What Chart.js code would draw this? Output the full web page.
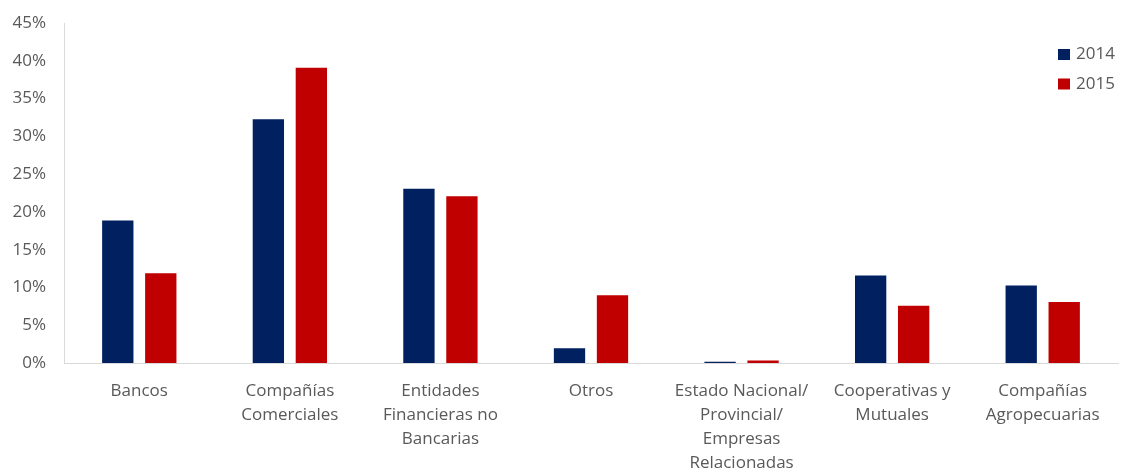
<!DOCTYPE html>
<html>
<head>
<meta charset="utf-8">
<script src="https://cdn.jsdelivr.net/npm/chart.js@4/dist/chart.umd.min.js"></script>
<style>
  html, body { margin: 0; padding: 0; background: #fff; }
  #wrap { width: 1121px; height: 472px; position: relative; }
</style>
</head>
<body>
<div id="wrap"><canvas id="c" width="1121" height="472"></canvas></div>
<script>
// Categorías (etiquetas multilínea del eje X)
const categories = [
  ['Bancos'],
  ['Compañías', 'Comerciales'],
  ['Entidades', 'Financieras no', 'Bancarias'],
  ['Otros'],
  ['Estado Nacional/', 'Provincial/', 'Empresas', 'Relacionadas'],
  ['Cooperativas y', 'Mutuales'],
  ['Compañías', 'Agropecuarias']
];

// Participación porcentual por año
const serie2014 = [19.0, 32.4, 23.2, 2.1, 0.3, 11.7, 10.4];
const serie2015 = [12.0, 39.2, 22.2, 9.1, 0.45, 7.7, 8.2];

// Marcas del eje Y (en %)
const yTicks = [0, 5, 10, 15, 20, 25, 30, 35, 40, 45];

const NAVY = '#002060';
const RED = '#C00000';
const TEXT = '#595959';
const FONT = '"Open Sans", Lato, sans-serif';

// Leyenda vertical dentro del área de trazado, arriba a la derecha
const legendPlugin = {
  id: 'insideLegend',
  afterDraw(chart) {
    const ctx = chart.ctx;
    ctx.save();
    ctx.font = '17px ' + FONT;
    ctx.textBaseline = 'middle';
    chart.data.datasets.forEach((ds, i) => {
      const y = 54.5 + i * 29.5;
      ctx.fillStyle = ds.backgroundColor;
      ctx.fillRect(1058, y - 5.5, 12, 11);
      ctx.fillStyle = TEXT;
      ctx.fillText(ds.label, 1076, y);
    });
    ctx.restore();
  }
};

new Chart(document.getElementById('c'), {
  type: 'bar',
  data: {
    labels: categories,
    datasets: [
      { label: '2014', data: serie2014, backgroundColor: NAVY, borderColor: 'rgba(255,255,255,0.45)', borderWidth: 1 },
      { label: '2015', data: serie2015, backgroundColor: RED, borderColor: 'rgba(255,255,255,0.45)', borderWidth: 1 }
    ]
  },
  options: {
    responsive: false,
    animation: false,
    devicePixelRatio: 1,
    layout: { padding: { top: 0, right: 3, left: 0, bottom: 0 } },
    datasets: { bar: { categoryPercentage: 0.571, barPercentage: 0.775 } },
    plugins: {
      legend: { display: false },
      tooltip: { enabled: false }
    },
    scales: {
      x: {
        grid: { display: false, drawTicks: false },
        border: { display: true, color: '#D9D9D9', width: 1 },
        ticks: {
          color: TEXT,
          font: { family: FONT, size: 17, lineHeight: 1.41 },
          padding: 16,
          maxRotation: 0,
          autoSkip: false
        },
        afterFit(s) { s.height = 109; }
      },
      y: {
        min: 0,
        max: 45,
        afterBuildTicks(s) { s.ticks = yTicks.map(v => ({ value: v })); },
        grid: { display: false, drawTicks: false },
        border: { display: true, color: '#D9D9D9', width: 1 },
        ticks: {
          color: TEXT,
          font: { family: FONT, size: 17 },
          padding: 18,
          callback: v => v + '%'
        },
        // fixed axis width and top offset of the plot area
        afterFit(s) { s.width = 64; s.paddingTop = 23; s.paddingBottom = 0; }
      }
    }
  },
  plugins: [legendPlugin]
});
</script>
</body>
</html>
